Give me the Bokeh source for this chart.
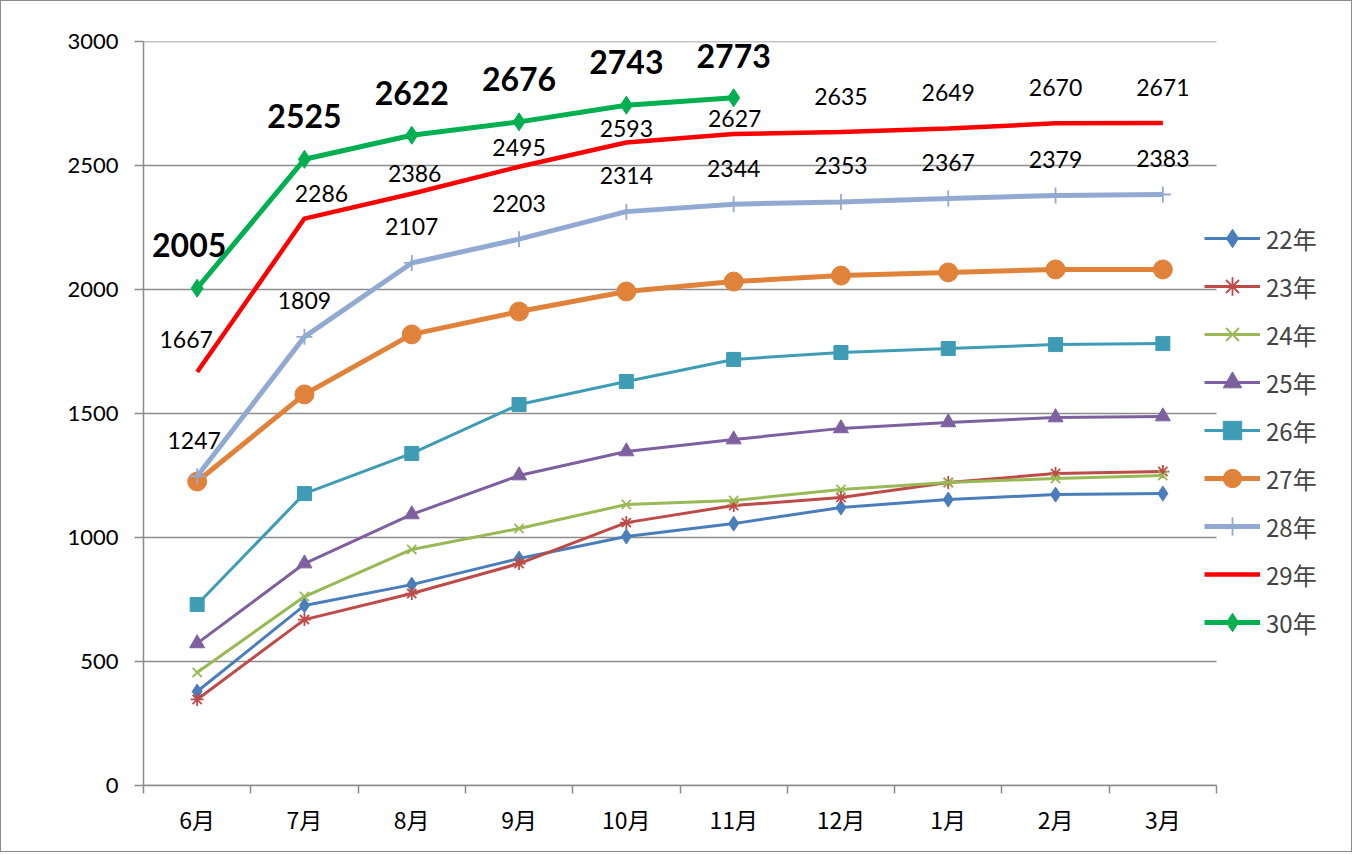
from bokeh.plotting import figure
from bokeh.models import ColumnDataSource, FixedTicker, Legend, LegendItem, Range1d
from bokeh.core.properties import value
from bokeh.embed import file_html
from bokeh.resources import INLINE

months = ["6月", "7月", "8月", "9月", "10月", "11月", "12月", "1月", "2月", "3月"]
series_names = ["22年", "23年", "24年", "25年", "26年", "27年", "28年", "29年", "30年"]

s22 = [379, 726, 810, 915, 1004, 1056, 1121, 1153, 1173, 1177]
s23 = [347, 669, 774, 895, 1060, 1129, 1161, 1222, 1258, 1266]
s24 = [456, 762, 952, 1036, 1133, 1149, 1194, 1222, 1238, 1250]
s25 = [573, 895, 1093, 1250, 1347, 1395, 1440, 1464, 1484, 1488]
s26 = [730, 1177, 1339, 1536, 1629, 1718, 1746, 1762, 1778, 1782]
s27 = [1226, 1577, 1819, 1911, 1992, 2032, 2056, 2069, 2081, 2081]
s28 = [1247, 1809, 2107, 2203, 2314, 2344, 2353, 2367, 2379, 2383]
s29 = [1667, 2286, 2386, 2495, 2593, 2627, 2635, 2649, 2670, 2671]
s30 = [2005, 2525, 2622, 2676, 2743, 2773]

y_ticks = [0, 500, 1000, 1500, 2000, 2500, 3000]

# label placement (screen px) - styling only
off28_y = [36] * 10
off28_x = [-3, 0, 0, 0, 0, 0, 0, 0, 0, 0]
off29_y = [33, 25, 20, 19, 14, 16, 36, 36, 36, 36]
off29_x = [-11, 17, 3, 0, 0, 1, 0, 0, 0, 0]
off30_y = [43, 43, 42, 43, 43, 42]
off30_x = [-8, 0, 0, 0, 0, 0]

n = len(months)
xs = [i + 0.5 for i in range(n)]

# frame: 142..1342 px, category band = 107.3 px -> extra room on right for legend
x_end = 1200 / 107.3
p = figure(width=1352, height=852, output_backend="svg", toolbar_location=None,
           x_range=Range1d(0, x_end), y_range=Range1d(0, 3000),
           min_border_left=142, min_border_right=10, min_border_top=40, min_border_bottom=68)
p.styles = {"border": "1.5px solid #8c8c8c", "box-sizing": "border-box"}
p.outline_line_color = None
p.background_fill_color = "white"
p.border_fill_color = "white"

grid_col = "#8c8c8c"
# y axis
p.yaxis.ticker = FixedTicker(ticks=y_ticks)
p.yaxis.axis_line_color = grid_col
p.yaxis.axis_line_width = 1.5
p.yaxis.major_tick_line_color = grid_col
p.yaxis.major_tick_line_width = 1.5
p.yaxis.major_tick_out = 9
p.yaxis.major_tick_in = 0
p.yaxis.minor_tick_line_color = None
p.yaxis.major_label_standoff = 16
p.yaxis.major_label_text_font = "Lato"
p.yaxis.major_label_text_font_size = "22px"
p.yaxis.major_label_text_color = "black"

# x axis
p.xaxis.ticker = FixedTicker(ticks=xs, minor_ticks=list(range(n + 1)))
p.xaxis.major_label_overrides = {x: m for x, m in zip(xs, months)}
p.xaxis.bounds = (0, n)
p.xaxis.axis_line_color = grid_col
p.xaxis.axis_line_width = 1.5
p.xaxis.major_tick_line_color = None
p.xaxis.major_tick_out = 0
p.xaxis.minor_tick_line_color = grid_col
p.xaxis.minor_tick_line_width = 1.5
p.xaxis.minor_tick_out = 8
p.xaxis.minor_tick_in = 0
p.xaxis.major_label_standoff = 8
p.xaxis.major_label_text_font = "Noto Sans CJK JP"
p.xaxis.major_label_text_font_size = "23px"
p.xaxis.major_label_text_color = "black"

p.xgrid.visible = False
p.ygrid.visible = False
# horizontal gridlines limited to the category span
gsrc = ColumnDataSource(dict(x0=[0] * len(y_ticks), x1=[n] * len(y_ticks), y=y_ticks))
p.segment("x0", "y", "x1", "y", source=gsrc, line_color=grid_col, line_width=1.5, level="underlay")

styles = [
    (s22, "#4A7EBB", 3, "diamond", 15),
    (s23, "#BE4B48", 3, "asterisk", 13),
    (s24, "#98B954", 3, "x", 13),
    (s25, "#7D60A0", 3, "triangle", 15),
    (s26, "#3F9CB5", 3, "square", 14),
    (s27, "#E0823A", 5, "circle", 19),
    (s28, "#92AAD2", 5, "cross", 16),
    (s29, "#FF0000", 4.5, None, 0),
    (s30, "#00B050", 5, "diamond", 18),
]

items = []
for name, (vals, col, lw, marker, ms) in zip(series_names, styles):
    src = ColumnDataSource(dict(x=xs[:len(vals)], y=vals))
    rs = [p.line("x", "y", source=src, line_color=col, line_width=lw)]
    if marker:
        if marker in ("asterisk", "x", "cross"):
            rs.append(p.scatter("x", "y", source=src, marker=marker, size=ms,
                                line_color=col, line_width=1.8, fill_color=None))
        else:
            rs.append(p.scatter("x", "y", source=src, marker=marker, size=ms,
                                line_color=col, fill_color=col))
    items.append(LegendItem(label=name, renderers=rs))

# data labels
lab28 = ColumnDataSource(dict(x=xs, y=s28, t=[str(v) for v in s28], xo=off28_x, yo=[-v for v in off28_y]))
lab29 = ColumnDataSource(dict(x=xs, y=s29, t=[str(v) for v in s29], xo=off29_x, yo=[-v for v in off29_y]))
lab30 = ColumnDataSource(dict(x=xs[:len(s30)], y=s30, t=[str(v) for v in s30], xo=off30_x, yo=[-v for v in off30_y]))
for src in (lab28, lab29):
    p.text("x", "y", text="t", source=src, x_offset="xo", y_offset="yo",
           text_align="center", text_baseline="middle", text_color="black",
           text_font=value("Lato"), text_font_size="23px")
p.text("x", "y", text="t", source=lab30, x_offset="xo", y_offset="yo",
       text_align="center", text_baseline="middle", text_color="black",
       text_font=value("Lato"), text_font_size="32px", text_font_style="bold")

legend = Legend(items=items, location=(1061, 140), orientation="vertical",
                border_line_color=None, background_fill_alpha=0,
                label_text_font="Noto Sans CJK JP", label_text_font_size="24px",
                glyph_width=56, glyph_height=46, label_height=46, spacing=2,
                label_standoff=6, padding=0, margin=0)
p.add_layout(legend, "center")

open("out.html", "w").write(file_html(p, INLINE))
